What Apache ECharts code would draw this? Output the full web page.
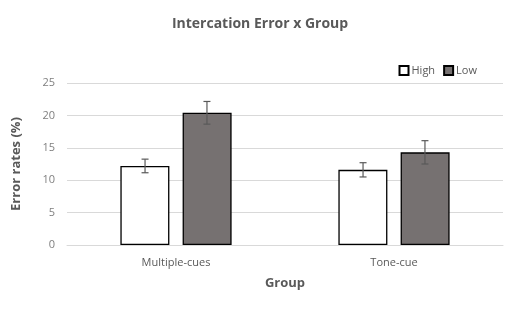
<!DOCTYPE html>
<html>
<head>
<meta charset="utf-8">
<script src="https://cdn.jsdelivr.net/npm/echarts@6/dist/echarts.min.js"></script>
<style>
  html, body { margin: 0; padding: 0; background: #fff; }
  #chart { width: 520px; height: 312px; }
</style>
</head>
<body>
<div id="chart"></div>
<script>
var groups = ['Multiple-cues', 'Tone-cue'];
var highValues = [12.2, 11.6];
var lowValues = [20.4, 14.3];
var highErr = [1.05, 1.1];
var lowErr = [1.75, 1.8];

var chart = echarts.init(document.getElementById('chart'));
var textColor = '#595959';
var font = '"Open Sans", Calibri, Arial, sans-serif';

// 误差线
function errorSeries(name, values, errs, side) {
    var data = values.map(function (v, i) { return [i, v - errs[i], v + errs[i]]; });
    return {
        type: 'custom',
        name: name + ' err',
        z: 10,
        silent: true,
        data: data,
        renderItem: function (params, api) {
            var band = api.size([1, 0])[0];
            var off = side * band * 0.142;
            var lo = api.coord([api.value(0), api.value(1)]);
            var hi = api.coord([api.value(0), api.value(2)]);
            var x = lo[0] + off, cap = 3.5;
            var st = { stroke: '#595959', lineWidth: 1.2 };
            return {
                type: 'group',
                children: [
                    { type: 'line', shape: { x1: x, y1: lo[1], x2: x, y2: hi[1] }, style: st },
                    { type: 'line', shape: { x1: x - cap, y1: lo[1], x2: x + cap, y2: lo[1] }, style: st },
                    { type: 'line', shape: { x1: x - cap, y1: hi[1], x2: x + cap, y2: hi[1] }, style: st }
                ]
            };
        }
    };
}

var option = {
    animation: false,
    backgroundColor: '#fff',
    title: {
        text: 'Intercation Error x Group',
        left: 'center',
        top: 12,
        textStyle: { fontFamily: font, fontSize: 14, fontWeight: 'bold', color: textColor }
    },
    legend: {
        data: ['High', 'Low'],
        right: 38,
        top: 60,
        itemWidth: 9,
        itemHeight: 9,
        itemGap: 8,
        icon: 'rect',
        textStyle: { fontFamily: font, fontSize: 11, color: textColor, padding: [0, 0, 0, -2] }
    },
    grid: { left: 67, right: 17, top: 83, bottom: 67, containLabel: false },
    xAxis: {
        type: 'category',
        data: groups,
        name: 'Group',
        nameLocation: 'middle',
        nameGap: 32,
        nameTextStyle: { fontFamily: font, fontSize: 13, fontWeight: 'bold', color: textColor },
        axisLine: { lineStyle: { color: '#d9d9d9' } },
        axisTick: { show: false },
        axisLabel: { fontFamily: font, fontSize: 11, color: textColor, margin: 12 }
    },
    yAxis: {
        type: 'value',
        min: 0,
        max: 25,
        interval: 5,
        name: 'Error rates (%)',
        nameLocation: 'middle',
        nameGap: 44,
        nameTextStyle: { fontFamily: font, fontSize: 13, fontWeight: 'bold', color: textColor },
        axisLine: { show: false },
        axisTick: { show: false },
        axisLabel: { fontFamily: font, fontSize: 11, color: '#7f7f7f', margin: 12 },
        splitLine: { lineStyle: { color: '#d9d9d9' } }
    },
    series: [
        {
            name: 'High',
            type: 'bar',
            data: highValues,
            barWidth: 49,
            barGap: '27%',
            itemStyle: { color: '#ffffff', borderColor: '#000', borderWidth: 1.3 }
        },
        {
            name: 'Low',
            type: 'bar',
            data: lowValues,
            barWidth: 49,
            itemStyle: { color: '#767171', borderColor: '#000', borderWidth: 1.3 }
        },
        errorSeries('High', highValues, highErr, -1),
        errorSeries('Low', lowValues, lowErr, 1)
    ]
};
chart.setOption(option);
</script>
</body>
</html>
